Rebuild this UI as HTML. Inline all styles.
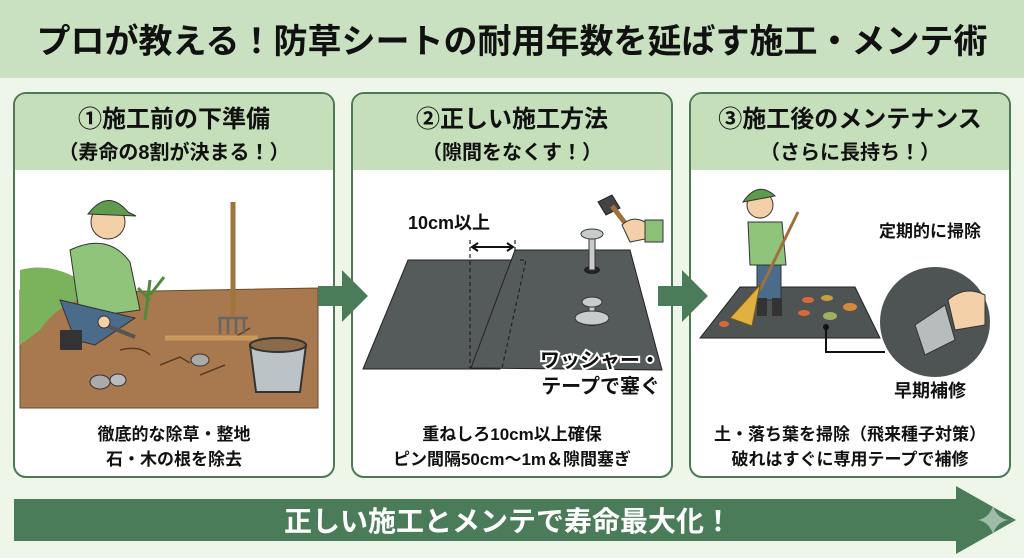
<!DOCTYPE html>
<html><head><meta charset="utf-8"><style>
body{margin:0;width:1024px;height:558px;overflow:hidden;background:#eef6ea}
svg{display:block}
text{font-family:"Liberation Sans","Noto Sans CJK JP",sans-serif;font-weight:bold}
</style></head><body>
<svg width="1024" height="558" viewBox="0 0 1024 558" xmlns="http://www.w3.org/2000/svg">
<rect x="0" y="0" width="1024" height="78" fill="#c9e1c0"/>
<text x="512" y="53" font-size="34" text-anchor="middle" fill="#111">プロが教える！防草シートの耐用年数を延ばす施工・メンテ術</text>

<g stroke="#4d7a55" stroke-width="2">
<rect x="14" y="93" width="320" height="384" rx="12" fill="#fff"/>
<rect x="352" y="93" width="320" height="384" rx="12" fill="#fff"/>
<rect x="690" y="93" width="320" height="384" rx="12" fill="#fff"/>
</g>
<g fill="#c5dfba">
<path d="M15 170 V106 a12 12 0 0 1 12 -12 H321 a12 12 0 0 1 12 12 V170Z"/>
<path d="M353 170 V106 a12 12 0 0 1 12 -12 H659 a12 12 0 0 1 12 12 V170Z"/>
<path d="M691 170 V106 a12 12 0 0 1 12 -12 H997 a12 12 0 0 1 12 12 V170Z"/>
</g>
<g font-size="24" text-anchor="middle" fill="#111">
<text x="174" y="127">①施工前の下準備</text>
<text x="512" y="127">②正しい施工方法</text>
<text x="850" y="127">③施工後のメンテナンス</text>
</g>
<g font-size="20" text-anchor="middle" fill="#111">
<text x="174" y="159">（寿命の8割が決まる！）</text>
<text x="512" y="159">（隙間をなくす！）</text>
<text x="850" y="159">（さらに長持ち！）</text>
</g>

<path d="M20 290 Q60 280 100 292 L318 288 L318 408 L20 408Z" fill="#a8784e" stroke="#6a4a2a"/>
<path d="M20 270 Q50 262 80 280 L100 295 Q60 300 40 330 L20 345Z" fill="#7bb35c"/>
<g stroke="#5a3d25" stroke-width="1.5" fill="none">
<path d="M160 365 l20 -8 l10 6 M200 375 l25 -10 M120 350 q20 -5 30 5 M230 340 l20 -12"/>
</g>
<ellipse cx="100" cy="382" rx="10" ry="7" fill="#aaa" stroke="#333"/>
<ellipse cx="118" cy="380" rx="8" ry="6" fill="#bbb" stroke="#333"/>
<ellipse cx="200" cy="360" rx="9" ry="6" fill="#aaa" stroke="#333"/>
<circle cx="108" cy="222" r="17" fill="#f3d0a8" stroke="#333"/>
<path d="M88 214 Q108 188 128 212 L136 216 Z" fill="#5f9b4f" stroke="#333"/>
<path d="M70 250 Q108 232 130 262 L140 310 L80 318 Z" fill="#8fc47a" stroke="#333"/>
<path d="M60 300 L75 340 L95 345 L135 318 Z" fill="#4a6c8a" stroke="#333"/>
<rect x="60" y="330" width="22" height="20" fill="#333"/>
<path d="M105 325 l30 12" stroke="#555" stroke-width="4"/>
<circle cx="104" cy="322" r="6" fill="#f3d0a8" stroke="#333"/>
<path d="M145 320 l5 -40 M150 300 l-12 -12 M150 295 l14 -18" stroke="#4f8a3a" stroke-width="3" fill="none"/>
<line x1="233" y1="202" x2="233" y2="318" stroke="#a0753c" stroke-width="5"/>
<path d="M218 318 h30 M220 318 v16 M228 318 v16 M236 318 v16 M244 318 v16" stroke="#666" stroke-width="2.5"/>
<path d="M165 338 H258" stroke="#c99a5c" stroke-width="5"/>
<path d="M250 345 L306 345 L300 392 L256 392Z" fill="#bcc3c6" stroke="#333" stroke-width="2"/>
<ellipse cx="278" cy="345" rx="28" ry="7" fill="#8a6a4a" stroke="#333" stroke-width="2"/>

<path d="M363 369 L408 260 L520 260 L500 369Z" fill="#555b5a" stroke="#222"/>
<path d="M471 368 L515 250 L630 250 L662 370Z" fill="#555b5a" stroke="#222"/>
<g stroke="#222" stroke-dasharray="4 3" fill="none" stroke-width="1.2">
<path d="M470 240 V368"/><path d="M515 240 V252"/><path d="M520 260 H526 L502 368"/>
</g>
<path d="M474 247 H511" stroke="#111" stroke-width="2"/>
<path d="M478 243 L472 247 L478 251 M507 243 L513 247 L507 251" stroke="#111" stroke-width="2" fill="none"/>
<text x="408" y="229" font-size="18" fill="#111">10cm以上</text>
<ellipse cx="592" cy="270" rx="8" ry="4" fill="#222"/>
<rect x="589" y="236" width="6" height="34" fill="#c8cccc" stroke="#333"/>
<ellipse cx="592" cy="234" rx="11" ry="5" fill="#c8cccc" stroke="#333"/>
<ellipse cx="592" cy="322" rx="8" ry="4" fill="#222"/>
<rect x="589" y="300" width="6" height="22" fill="#c8cccc" stroke="#333"/>
<ellipse cx="592" cy="318" rx="17" ry="7" fill="#c8cccc" stroke="#333"/>
<ellipse cx="592" cy="302" rx="10" ry="5" fill="#c8cccc" stroke="#333"/>
<path d="M598 202 L612 195 L620 208 L606 215Z" fill="#444" stroke="#222"/>
<path d="M612 206 L632 232" stroke="#a0703c" stroke-width="5"/>
<path d="M622 225 Q632 215 645 222 L650 238 L630 242Z" fill="#f3d0a8" stroke="#333"/>
<rect x="645" y="220" width="18" height="22" fill="#8cbf78" stroke="#333"/>
<text x="660" y="367" font-size="20" text-anchor="end" fill="#111" stroke="#fff" stroke-width="4" paint-order="stroke">ワッシャー・</text>
<text x="660" y="393" font-size="20" text-anchor="end" fill="#111">テープで塞ぐ</text>

<path d="M700 338 L740 287 L855 287 L880 338Z" fill="#4e5453" stroke="#222"/>
<circle cx="760" cy="205" r="13" fill="#f3d0a8" stroke="#333"/>
<path d="M743 202 Q758 180 775 196 Z" fill="#5f9b4f" stroke="#333"/>
<path d="M748 222 H782 L786 265 H750Z" fill="#8fc47a" stroke="#333"/>
<rect x="757" y="265" width="24" height="35" fill="#4a6c8a" stroke="#333"/>
<rect x="757" y="298" width="10" height="18" fill="#333"/><rect x="772" y="298" width="10" height="18" fill="#333"/>
<line x1="798" y1="212" x2="760" y2="290" stroke="#a0703c" stroke-width="3"/>
<path d="M760 285 L730 318 L752 326 Z" fill="#e0b040" stroke="#7a5a10"/>
<g fill="#d9683a"><ellipse cx="808" cy="300" rx="6" ry="3"/><ellipse cx="827" cy="298" rx="6" ry="3" fill="#c6a040"/><ellipse cx="804" cy="313" rx="6" ry="3"/><ellipse cx="850" cy="307" rx="7" ry="4" fill="#d48a3a"/><ellipse cx="830" cy="316" rx="7" ry="4" fill="#a0b060"/><ellipse cx="724" cy="324" rx="5" ry="3"/></g>
<circle cx="826" cy="327" r="3" fill="#111"/>
<path d="M826 327 V352 H885" stroke="#111" stroke-width="2" fill="none"/>
<circle cx="935" cy="322" r="55" fill="#4e5453"/>
<path d="M915 325 L945 305 L955 340 L925 355Z" fill="#b8bcbc" stroke="#333"/>
<path d="M948 300 Q965 285 985 295 L985 325 L955 330Z" fill="#f3d0a8" stroke="#333"/>
<text x="930" y="237" font-size="17" text-anchor="middle" fill="#111">定期的に掃除</text>
<text x="930" y="397" font-size="18" text-anchor="middle" fill="#111">早期補修</text>

<path d="M318 286 H342 V270 L368 296 L342 322 V306 H318Z" fill="#4a7c59"/>
<path d="M658 286 H682 V270 L708 296 L682 322 V306 H658Z" fill="#4a7c59"/>

<g font-size="17" text-anchor="middle" fill="#111">
<text x="174" y="440">徹底的な除草・整地</text>
<text x="174" y="465">石・木の根を除去</text>
<text x="512" y="440">重ねしろ10cm以上確保</text>
<text x="512" y="465">ピン間隔50cm～1m＆隙間塞ぎ</text>
<text x="850" y="440">土・落ち葉を掃除（飛来種子対策）</text>
<text x="850" y="465">破れはすぐに専用テープで補修</text>
</g>

<path d="M14 499 H956 V486 L1016 520 L956 554 V541 H14Z" fill="#4a7c59"/>
<path d="M993 506 Q997 518 1008 520 Q997 522 993 534 Q989 522 978 520 Q989 518 993 506Z" fill="#9fbda6"/>
<text x="508" y="531" font-size="28" text-anchor="middle" fill="#fff">正しい施工とメンテで寿命最大化！</text>
</svg>
</body></html>
